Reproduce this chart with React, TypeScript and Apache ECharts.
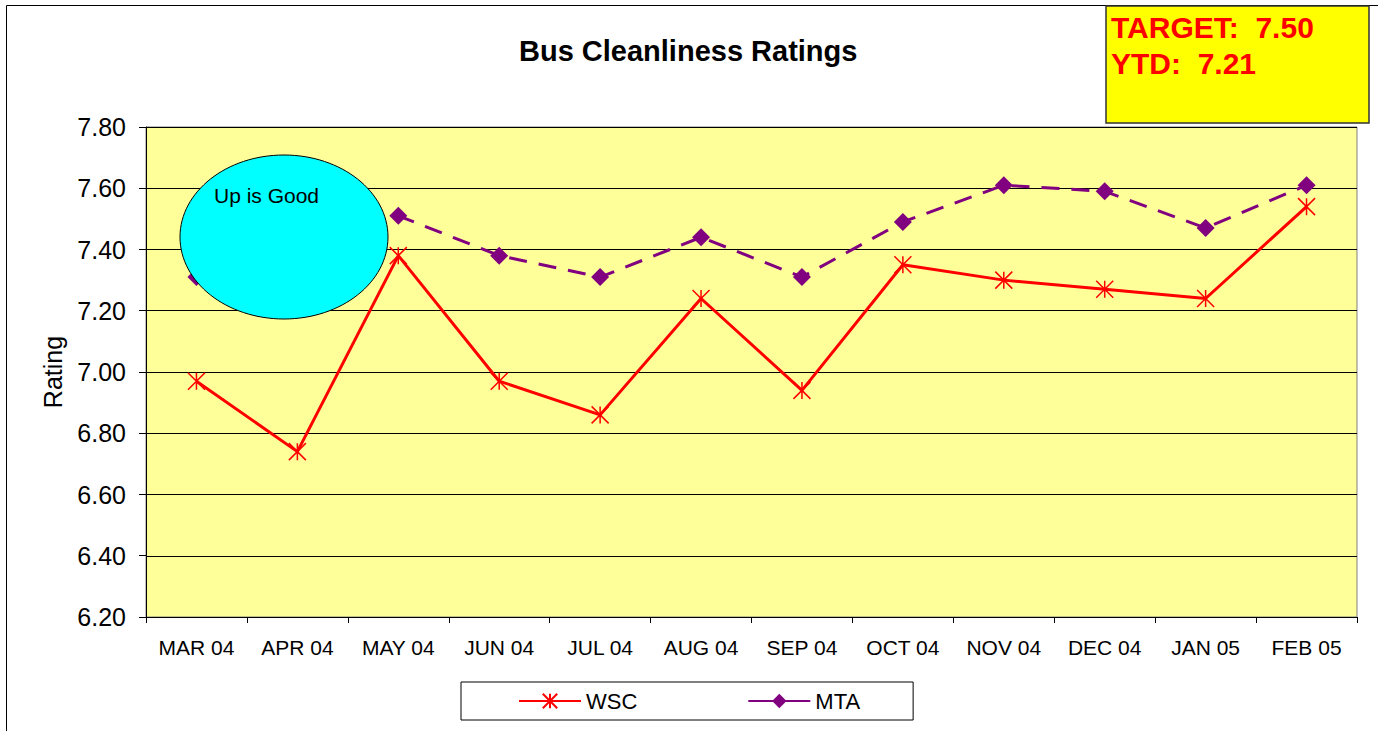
import React, { useEffect, useRef } from "react";
import * as echarts from "echarts";

const categories = ["MAR 04", "APR 04", "MAY 04", "JUN 04", "JUL 04", "AUG 04", "SEP 04", "OCT 04", "NOV 04", "DEC 04", "JAN 05", "FEB 05"];
const wscValues = [6.97, 6.74, 7.38, 6.97, 6.86, 7.24, 6.94, 7.35, 7.30, 7.27, 7.24, 7.54];
const mtaValues = [7.31, 7.43, 7.51, 7.38, 7.31, 7.44, 7.31, 7.49, 7.61, 7.59, 7.47, 7.61];
const yMin = 6.2;
const yMax = 7.8;
const yInterval = 0.2;
const titleText = "Bus Cleanliness Ratings";
const targetLines = ["TARGET:  7.50", "YTD:  7.21"];
const calloutText = "Up is Good";

const FONT = "'Liberation Sans', Arial, sans-serif";
const asterisk = "path://M0 0L10 10M10 0L0 10M5 0L5 10";

export default function App() {
  const ref = useRef<HTMLDivElement>(null);
  useEffect(() => {
    if (!ref.current) return;
    const chart = echarts.init(ref.current, null, { renderer: "svg" });
    chart.setOption({
      animation: false,
      backgroundColor: "#ffffff",
      textStyle: { fontFamily: FONT },
      title: {
        text: titleText,
        left: 519,
        top: 36,
        padding: 0,
        textStyle: { fontFamily: FONT, fontSize: 29, fontWeight: "bold", color: "#000" },
      },
      grid: {
        left: 146,
        top: 127,
        width: 1211,
        height: 490,
        show: true,
        backgroundColor: "#FFFF99",
        borderColor: "#808080",
        borderWidth: 1,
      },
      legend: {
        left: 461,
        top: 682,
        padding: [8, 53, 8, 57],
        itemGap: 110,
        itemWidth: 62,
        itemHeight: 18,
        borderColor: "#000",
        borderWidth: 1,
        backgroundColor: "#fff",
        lineStyle: { type: "solid" },
        textStyle: { fontFamily: FONT, fontSize: 22, color: "#000" },
        data: ["WSC", "MTA"],
      },
      xAxis: {
        type: "category",
        data: categories,
        boundaryGap: true,
        axisLine: { lineStyle: { color: "#000", width: 1 } },
        axisTick: { show: true, inside: false, length: 6, lineStyle: { color: "#000" } },
        axisLabel: { fontFamily: FONT, fontSize: 21, color: "#000", margin: 20, interval: 0 },
        splitLine: { show: false },
      },
      yAxis: {
        type: "value",
        min: yMin,
        max: yMax,
        interval: yInterval,
        name: "Rating",
        nameLocation: "middle",
        nameGap: 81,
        nameTextStyle: { fontFamily: FONT, fontSize: 25, color: "#000" },
        axisLine: { show: true, lineStyle: { color: "#000", width: 1 } },
        axisTick: { show: true, inside: false, length: 7, lineStyle: { color: "#000" } },
        axisLabel: {
          fontFamily: FONT,
          fontSize: 25,
          color: "#000",
          margin: 20,
          formatter: (v: number) => v.toFixed(2),
        },
        splitLine: { show: true, lineStyle: { color: "#000", width: 1 } },
      },
      series: [
        {
          name: "WSC",
          type: "line",
          data: wscValues,
          symbol: asterisk,
          symbolSize: 17,
          lineStyle: { color: "#FF0000", width: 3 },
          itemStyle: { color: "none", borderColor: "#FF0000", borderWidth: 1.5 },
          z: 3,
        },
        {
          name: "MTA",
          type: "line",
          data: mtaValues,
          symbol: "diamond",
          symbolSize: 18,
          lineStyle: { color: "#800080", width: 3, type: [18, 12] },
          itemStyle: { color: "#800080" },
          z: 2,
        },
      ],
      graphic: [
        {
          type: "rect",
          shape: { x: 6.5, y: 5.5, width: 1400, height: 800 },
          style: { fill: "none", stroke: "#000", lineWidth: 1 },
          silent: true,
          z: 0,
        },
        {
          type: "ellipse",
          shape: { cx: 284, cy: 237, rx: 104, ry: 82 },
          style: { fill: "#00FFFF", stroke: "#000", lineWidth: 1 },
          z: 10,
        },
        {
          type: "text",
          x: 214,
          y: 195,
          style: {
            text: calloutText,
            fontFamily: FONT,
            fontSize: 21,
            fill: "#000",
            verticalAlign: "middle",
          },
          z: 11,
        },
        {
          type: "rect",
          shape: { x: 1106, y: 6, width: 263, height: 117 },
          style: { fill: "#FFFF00", stroke: "#333", lineWidth: 1.5 },
          z: 10,
        },
        {
          type: "text",
          x: 1111,
          y: 27,
          style: {
            text: targetLines[0],
            fontFamily: FONT,
            fontSize: 30,
            fontWeight: "bold",
            fill: "#FF0000",
            verticalAlign: "middle",
          },
          z: 11,
        },
        {
          type: "text",
          x: 1111,
          y: 63,
          style: {
            text: targetLines[1],
            fontFamily: FONT,
            fontSize: 30,
            fontWeight: "bold",
            fill: "#FF0000",
            verticalAlign: "middle",
          },
          z: 11,
        },
      ],
    });
    return () => chart.dispose();
  }, []);
  return (
    <div
      ref={ref}
      style={{ position: "fixed", left: 0, top: 0, width: 1378, height: 731 }}
    />
  );
}
